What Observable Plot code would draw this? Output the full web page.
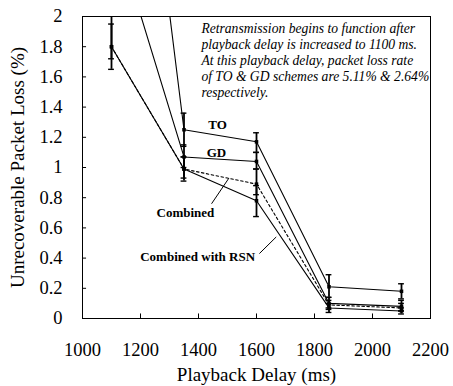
<!DOCTYPE html>
<html><head><meta charset="utf-8">
<script src="https://cdn.jsdelivr.net/npm/d3@7"></script>
<script src="https://cdn.jsdelivr.net/npm/@observablehq/plot@0.6"></script>
<style>body{margin:0;background:#fff} svg, svg text{font-family:"Liberation Serif", serif !important}</style>
</head><body><div id="chart"></div>
<script>
const delays = [1100, 1350, 1600, 1850, 2100];
const series = ["TO", "GD", "Combined", "Combined with RSN"];
const toLoss = [5.11, 1.25, 1.17, 0.21, 0.18];
const toLow = [5.11, 1.14, 1.10, 0.14, 0.13];
const toHigh = [5.11, 1.36, 1.23, 0.29, 0.23];
const gdLoss = [2.64, 1.07, 1.04, 0.10, 0.08];
const gdLow = [2.64, 1.00, 0.99, 0.07, 0.05];
const gdHigh = [2.64, 1.15, 1.10, 0.14, 0.12];
const combLoss = [1.80, 0.99, 0.89, 0.09, 0.07];
const combLow = [1.72, 0.93, 0.82, 0.06, 0.05];
const combHigh = [2.10, 1.07, 0.99, 0.12, 0.10];
const rsnLoss = [1.80, 0.99, 0.78, 0.07, 0.05];
const rsnLow = [1.65, 0.91, 0.675, 0.04, 0.03];
const rsnHigh = [1.95, 1.07, 0.88, 0.10, 0.07];
const xTicks = [1000, 1200, 1400, 1600, 1800, 2000, 2200];
const yTicks = [0, 0.2, 0.4, 0.6, 0.8, 1, 1.2, 1.4, 1.6, 1.8, 2];
const note = "Retransmission begins to function after\nplayback delay is increased to 1100 ms.\nAt this playback delay, packet loss rate\nof TO & GD schemes are 5.11% & 2.64%\nrespectively.";

const vals = [toLoss, gdLoss, combLoss, rsnLoss];
const lows = [toLow, gdLow, combLow, rsnLow];
const highs = [toHigh, gdHigh, combHigh, rsnHigh];
const rows = series.flatMap((s, i) => delays.map((d, j) => ({series: s, delay: d, loss: vals[i][j], low: lows[i][j], high: highs[i][j]})));
const visible = rows.filter(r => r.loss <= 2);
const bars = rows.filter(r => r.low !== r.high);
const capW = 10;

const chart = Plot.plot({
  width: 453, height: 386,
  marginLeft: 82, marginRight: 23, marginTop: 16, marginBottom: 68,
  style: {fontFamily: "Liberation Serif", background: "#fff", color: "#000"},
  x: {domain: [1000, 2200]},
  y: {domain: [0, 2]},
  marks: [
    Plot.frame({stroke: "#000", strokeWidth: 1}),
    Plot.ruleY(yTicks, {x1: 1000, x2: 1014, stroke: "#000"}),
    Plot.ruleX(xTicks, {y1: 0, y2: 0.03, stroke: "#000"}),
    Plot.axisY({ticks: yTicks, tickSize: 0, tickPadding: 20, fontSize: 18.5, label: null, tickFormat: d => String(d)}),
    Plot.axisY({ticks: [], label: "Unrecoverable Packet Loss (%)", labelAnchor: "center", labelArrow: "none", labelOffset: 72, fontSize: 19}),
    Plot.axisX({ticks: xTicks, tickSize: 0, tickPadding: 24, fontSize: 18.5, label: null, tickFormat: d => String(d)}),
    Plot.axisX({ticks: [], label: "Playback Delay (ms)", labelAnchor: "center", labelArrow: "none", labelOffset: 62, fontSize: 19}),
    Plot.line(rows.filter(r => r.series !== "Combined"), {x: "delay", y: "loss", z: "series", stroke: "#000", strokeWidth: 1.1, clip: true}),
    Plot.line(rows.filter(r => r.series === "Combined"), {x: "delay", y: "loss", stroke: "#000", strokeWidth: 1.1, strokeDasharray: "2.5,2.5", clip: true}),
    Plot.ruleX(bars, {x: "delay", y1: "low", y2: "high", stroke: "#000", strokeWidth: 1.8, clip: true}),
    Plot.ruleY(bars.filter(r => r.high <= 2), {y: "high", x1: r => r.delay - capW, x2: r => r.delay + capW, stroke: "#000", strokeWidth: 1.4}),
    Plot.ruleY(bars, {y: "low", x1: r => r.delay - capW, x2: r => r.delay + capW, stroke: "#000", strokeWidth: 1.4}),
    Plot.dot(visible, {x: "delay", y: "loss", symbol: "square", r: 2, fill: "#000"}),
    Plot.text([note], {x: 1410, y: 1.97, text: d => d, textAnchor: "start", lineAnchor: "top", lineHeight: 1.19, fontSize: 13.6, fontStyle: "italic"}),
    Plot.text(["TO"], {x: 1466, y: 1.28, text: d => d, fontSize: 13, fontWeight: "bold"}),
    Plot.text(["GD"], {x: 1462, y: 1.10, text: d => d, fontSize: 13, fontWeight: "bold"}),
    Plot.text(["Combined"], {x: 1355, y: 0.70, text: d => d, fontSize: 13, fontWeight: "bold"}),
    Plot.text(["Combined with RSN"], {x: 1397, y: 0.41, text: d => d, fontSize: 13, fontWeight: "bold"}),
    Plot.link([{x1: 1505, y1: 0.93, x2: 1445, y2: 0.76}], {x1: "x1", y1: "y1", x2: "x2", y2: "y2", stroke: "#000"}),
    Plot.link([{x1: 1610, y1: 0.43, x2: 1668, y2: 0.54}], {x1: "x1", y1: "y1", x2: "x2", y2: "y2", stroke: "#000"})
  ]
});
document.getElementById("chart").appendChild(chart);
</script>
</body></html>
